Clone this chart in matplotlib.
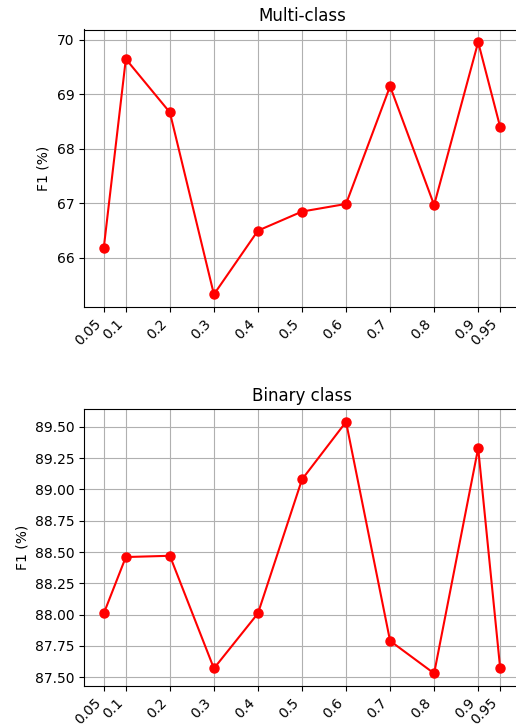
import matplotlib
matplotlib.use("Agg")
import matplotlib.pyplot as plt

thresholds = [0.05, 0.1, 0.2, 0.3, 0.4, 0.5, 0.6, 0.7, 0.8, 0.9, 0.95]
tick_labels = ["0.05", "0.1", "0.2", "0.3", "0.4", "0.5", "0.6", "0.7", "0.8", "0.9", "0.95"]
multi_f1 = [66.19, 69.65, 68.67, 65.33, 66.50, 66.85, 66.99, 69.15, 66.97, 69.96, 68.40]
binary_f1 = [88.01, 88.46, 88.47, 87.57, 88.01, 89.08, 89.54, 87.79, 87.53, 89.33, 87.57]

W, H = 516, 727
fig = plt.figure(figsize=(W / 100, H / 100), dpi=100)

def frac(left, top, right, bottom):
    return [left / W, 1 - bottom / H, (right - left) / W, (bottom - top) / H]

ax1 = fig.add_axes(frac(84, 29.5, 520, 307))
ax2 = fig.add_axes(frac(84, 409.3, 520, 686))

for ax, vals, title in [(ax1, multi_f1, "Multi-class"), (ax2, binary_f1, "Binary class")]:
    ax.plot(thresholds, vals, color="red", marker="o", markersize=6.5, linewidth=1.5)
    ax.set_title(title, fontsize=12)
    ax.set_ylabel("F1 (%)")
    ax.set_xticks(thresholds)
    ax.set_xticklabels(tick_labels, rotation=45, ha="right")
    ax.grid(True)

ax1.set_yticks([66, 67, 68, 69, 70])
ax2.set_yticks([87.5, 87.75, 88.0, 88.25, 88.5, 88.75, 89.0, 89.25, 89.5])
ax2.set_yticklabels(["87.50", "87.75", "88.00", "88.25", "88.50", "88.75", "89.00", "89.25", "89.50"])

fig.savefig("out.png", dpi=100)
